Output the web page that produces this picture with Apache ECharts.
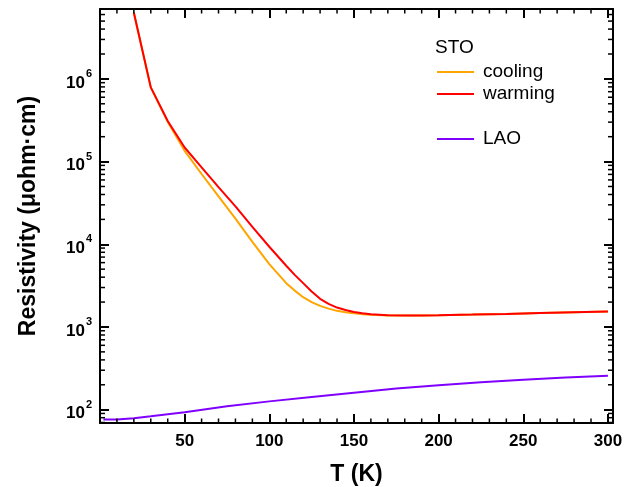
<!DOCTYPE html>
<html><head><meta charset="utf-8">
<script src="https://cdn.jsdelivr.net/npm/echarts@6/dist/echarts.min.js"></script>
<style>html,body{margin:0;padding:0;background:#fff}#c{width:633px;height:487px}</style>
</head><body><div id="c"></div>
<script>
// ---- data ----
const stoTemperatureK = [20, 30, 40, 50, 60, 70, 80, 90, 100, 110, 115, 120, 125, 130, 135, 140, 145, 150, 155, 160, 170, 180, 190, 200, 220, 240, 260, 280, 300];
const coolingValues = [6.3e6, 7.9e5, 3.02e5, 1.35e5, 7.08e4, 3.8e4, 2.04e4, 1.07e4, 5750, 3390, 2754, 2290, 1995, 1799, 1667, 1567, 1507, 1462, 1429, 1406, 1380, 1374, 1380, 1390, 1413, 1439, 1472, 1507, 1542];
const warmingValues = [6.3e6, 7.9e5, 3.09e5, 1.48e5, 8.51e4, 4.9e4, 2.88e4, 1.62e4, 9330, 5500, 4266, 3390, 2692, 2190, 1905, 1718, 1603, 1514, 1462, 1429, 1387, 1374, 1380, 1390, 1413, 1439, 1472, 1507, 1542];
const laoTemperatureK = [2, 10, 20, 30, 50, 75, 100, 125, 150, 175, 200, 225, 250, 275, 300];
const laoValues = [76, 76, 79, 83, 93, 110, 126, 142, 160, 180, 197, 214, 230, 245, 257];
const xTickLabels = [50, 100, 150, 200, 250, 300];
const xMinorTickValues = [10, 20, 30, 40, 60, 70, 80, 90, 110, 120, 130, 140, 160, 170, 180, 190, 210, 220, 230, 240, 260, 270, 280, 290];
const yDecadeExponents = [2, 3, 4, 5, 6];
const yMinorMultipliers = [2, 3, 4, 5, 6, 7, 8, 9];
const legendGroups = [['cooling', 'warming'], ['LAO']];
const legendHeader = 'STO';

const X_MIN = 0, X_MAX = 303, Y_MIN = 69, Y_MAX = 7.0e6;
const FONT = '"Liberation Sans", Arial, Helvetica, sans-serif';

const yMinorTickValues = [];
yDecadeExponents.concat([1]).forEach(e => {
  yMinorMultipliers.forEach(m => {
    const v = m * Math.pow(10, e);
    if (v > Y_MIN && v < Y_MAX) yMinorTickValues.push(v);
  });
});

const chart = echarts.init(document.getElementById('c'), null, {renderer: 'canvas'});

const tickLine = {show: true, inside: true, length: 9, lineStyle: {color: '#000', width: 2}};
const axisLine = {show: true, onZero: false, lineStyle: {color: '#000', width: 2}};

function minorTickSeries(isX) {
  return {
    type: 'custom',
    silent: true,
    z: 5,
    clip: false,
    data: isX ? xMinorTickValues.map(v => [v, 1000]) : yMinorTickValues.map(v => [150, v]),
    renderItem: (params, api) => {
      const cs = params.coordSys;
      const p = api.coord([api.value(0), api.value(1)]);
      const st = {stroke: '#000', lineWidth: 1.5};
      if (isX) {
        return {type: 'group', children: [
          {type: 'line', shape: {x1: p[0], y1: cs.y + cs.height, x2: p[0], y2: cs.y + cs.height - 4.5}, style: st},
          {type: 'line', shape: {x1: p[0], y1: cs.y, x2: p[0], y2: cs.y + 4.5}, style: st}
        ]};
      }
      return {type: 'group', children: [
        {type: 'line', shape: {x1: cs.x, y1: p[1], x2: cs.x + 5, y2: p[1]}, style: st},
        {type: 'line', shape: {x1: cs.x + cs.width - 5, y1: p[1], x2: cs.x + cs.width, y2: p[1]}, style: st}
      ]};
    }
  };
}

const legendText = {color: '#000', fontFamily: FONT, fontSize: 19, lineHeight: 22, padding: [0, 0, 0, 4]};

chart.setOption({
  animation: false,
  backgroundColor: '#fff',
  grid: {left: 100, right: 20, top: 9, bottom: 64, containLabel: false, outerBoundsMode: 'none'},
  legend: [
    {data: legendGroups[0], orient: 'vertical', left: 437, top: 61, padding: 0, itemGap: 0,
     icon: 'rect', itemWidth: 37, itemHeight: 2, textStyle: legendText, selectedMode: false},
    {data: legendGroups[1], orient: 'vertical', left: 437, top: 128, padding: 0, itemGap: 0,
     icon: 'rect', itemWidth: 37, itemHeight: 2, textStyle: legendText, selectedMode: false}
  ],
  graphic: [{type: 'text', left: 435, top: 38, style: {text: legendHeader, fill: '#000', font: '19px ' + FONT}}],
  xAxis: [
    {type: 'value', position: 'bottom', min: X_MIN, max: X_MAX, interval: 50,
     name: 'T (K)', nameLocation: 'middle', nameGap: 40,
     nameTextStyle: {color: '#000', fontFamily: FONT, fontWeight: 'bold', fontSize: 23},
     axisLine: axisLine, axisTick: tickLine, splitLine: {show: false},
     axisLabel: {show: true, margin: 10, color: '#000', fontFamily: FONT, fontWeight: 'bold', fontSize: 17,
       formatter: v => (xTickLabels.indexOf(v) >= 0 ? String(v) : '')}},
    {type: 'value', position: 'top', min: X_MIN, max: X_MAX, interval: 50,
     axisLine: axisLine, axisTick: tickLine, splitLine: {show: false}, axisLabel: {show: false}}
  ],
  yAxis: [
    {type: 'log', logBase: 10, position: 'left', min: Y_MIN, max: Y_MAX,
     name: 'Resistivity (μohm·cm)', nameLocation: 'middle', nameGap: 60, nameRotate: 90,
     nameTextStyle: {color: '#000', fontFamily: FONT, fontWeight: 'bold', fontSize: 23},
     axisLine: axisLine, axisTick: tickLine, splitLine: {show: false}, minorTick: {show: false},
     axisLabel: {show: true, margin: 8, color: '#000',
       formatter: v => {
         const e = Math.log10(v), r = Math.round(e);
         if (Math.abs(e - r) > 1e-6 || yDecadeExponents.indexOf(r) < 0) return '';
         return '{b|10}{s|' + r + '}';
       },
       rich: {
         b: {fontFamily: FONT, fontWeight: 'bold', fontSize: 17, lineHeight: 17, color: '#000', padding: [8, 0, 0, 0]},
         s: {fontFamily: FONT, fontWeight: 'bold', fontSize: 11, lineHeight: 11, color: '#000', padding: [2, 0, 12, 1]}
       }}},
    {type: 'log', logBase: 10, position: 'right', min: Y_MIN, max: Y_MAX,
     axisLine: axisLine, axisTick: tickLine, splitLine: {show: false}, minorTick: {show: false}, axisLabel: {show: false}}
  ],
  series: [
    {name: 'cooling', type: 'line', color: '#FFA500', showSymbol: false, symbol: 'none',
     lineStyle: {width: 2, color: '#FFA500'}, itemStyle: {color: '#FFA500'},
     data: stoTemperatureK.map((t, i) => [t, coolingValues[i]])},
    {name: 'warming', type: 'line', color: '#FF0000', showSymbol: false, symbol: 'none',
     lineStyle: {width: 2, color: '#FF0000'}, itemStyle: {color: '#FF0000'},
     data: stoTemperatureK.map((t, i) => [t, warmingValues[i]])},
    {name: 'LAO', type: 'line', color: '#8000FF', showSymbol: false, symbol: 'none',
     lineStyle: {width: 2, color: '#8000FF'}, itemStyle: {color: '#8000FF'},
     data: laoTemperatureK.map((t, i) => [t, laoValues[i]])},
    minorTickSeries(true),
    minorTickSeries(false)
  ]
});
</script></body></html>
